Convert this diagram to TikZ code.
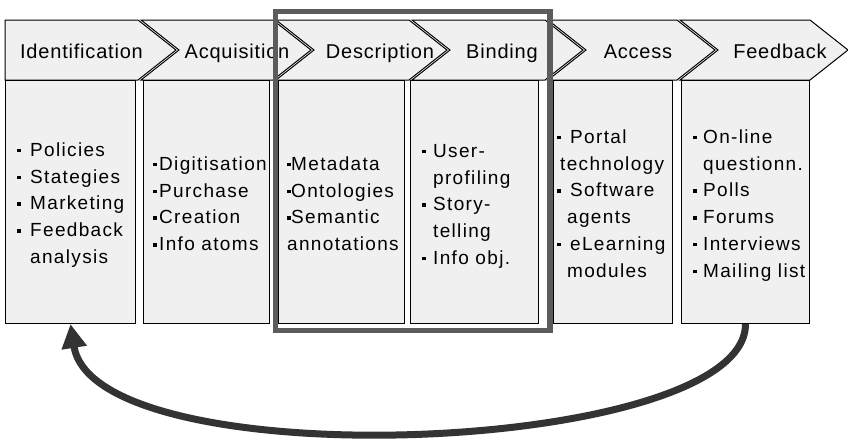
\documentclass[tikz,border=0pt]{standalone}
\usepackage{fontspec}
\setmainfont{Liberation Sans}
\newfontfamily\headfont[LetterSpace=4]{Liberation Sans}
\newfontfamily\bodyfont[LetterSpace=7]{Liberation Sans}
\usetikzlibrary{arrows.meta}
\definecolor{panel}{HTML}{F0F0F0}
\definecolor{framegray}{HTML}{5C5C5C}
\definecolor{loopgray}{HTML}{333333}
% small square bullet followed by a gap of the given width
\newcommand\sqbullet{\rule[4pt]{3.5pt}{3.5pt}}
\newcommand\itm[1]{\makebox[#1][l]{\sqbullet}}
\newcommand\cnt[1]{\hspace*{#1}}
\newcommand\firstline{\rule{0pt}{14pt}}
\begin{document}
\begin{tikzpicture}[x=1pt,y=-1pt,
  chev/.style={draw=black, fill=panel, line width=1pt, line join=miter},
  panelbox/.style={draw=black, fill=panel, line width=1pt, anchor=north west,
    inner sep=0pt, minimum height=243pt},
  head/.style={font=\headfont\fontsize{20}{24}\selectfont, anchor=base, inner sep=0pt},
  items/.style={font=\bodyfont\fontsize{19}{26.8}\selectfont, align=left,
    anchor=north west, inner sep=0pt},
  loopback/.style={draw=loopgray, line width=7pt,
    -{Triangle[length=24pt,width=24pt]}}]
\useasboundingbox (0,0) rectangle (848,440);

% process chevrons
\draw[chev] (5,20) -- (138,20) -- (176,50) -- (138,80) -- (5,80) -- cycle;
\draw[chev] (141,20) -- (273,20) -- (311,50) -- (273,80) -- (141,80) -- (179,50) -- cycle;
\draw[chev] (276,20) -- (409,20) -- (447,50) -- (409,80) -- (276,80) -- (314,50) -- cycle;
\draw[chev] (412,20) -- (545,20) -- (583,50) -- (545,80) -- (412,80) -- (450,50) -- cycle;
\draw[chev] (548,20) -- (677,20) -- (715,50) -- (677,80) -- (548,80) -- (586,50) -- cycle;
\draw[chev] (680,20) -- (810,20) -- (848,50) -- (810,80) -- (680,80) -- (718,50) -- cycle;

\node[head] (h1) at (81.5,58) {Identification};
\node[head] (h2) at (237,58) {Acquisition};
\node[head] (h3) at (380,58) {Description};
\node[head] (h4) at (502,58) {Binding};
\node[head] (h5) at (638,58) {Access};
\node[head] (h6) at (780,58) {Feedback};

% activity panels
\node[panelbox, minimum width=130pt] (b1) at (5,80) {};
\node[panelbox, minimum width=126pt] (b2) at (143,80) {};
\node[panelbox, minimum width=126pt] (b3) at (278,80) {};
\node[panelbox, minimum width=128pt] (b4) at (410,80) {};
\node[panelbox, minimum width=119pt] (b5) at (553,80) {};
\node[panelbox, minimum width=128pt] (b6) at (681,80) {};

\node[items] (t1) at (17,142) {\firstline\itm{13pt}Policies\\\itm{13pt}Stategies\\\itm{13pt}Marketing\\\itm{13pt}Feedback\\\cnt{13pt}analysis};
\node[items] (t2) at (153,156) {\firstline\itm{6pt}Digitisation\\\itm{6pt}Purchase\\\itm{6pt}Creation\\\itm{6pt}Info atoms};
\node[items] (t3) at (287,156) {\firstline\itm{4pt}Metadata\\\itm{4pt}Ontologies\\\itm{4pt}Semantic\\annotations};
\node[items] (t4) at (422,143) {\firstline\itm{11pt}User-\\\cnt{11pt}profiling\\\itm{11pt}Story-\\\cnt{11pt}telling\\\itm{11pt}Info obj.};
\node[items] (t5) at (557,129) {\firstline\itm{13pt}Portal\\\cnt{3pt}technology\\\itm{13pt}Software\\\cnt{10pt}agents\\\itm{13pt}eLearning\\\cnt{10pt}modules};
\begin{scope}
  \clip (681.5,80.5) rectangle (808.5,322.5);
  \node[items] (t6) at (693,129) {\firstline\itm{10pt}On-line\\\cnt{10pt}questionn.\\\itm{10pt}Polls\\\itm{10pt}Forums\\\itm{10pt}Interviews\\\itm{10pt}Mailing list};
\end{scope}

% highlight around description and binding
\draw[draw=framegray, line width=5.5pt] (275.5,11.5) rectangle (550,330.5);

% feedback loop back to identification
\draw[loopback] (b6.south) .. controls (746,455) and (95,480) .. (b1.south);
\end{tikzpicture}
\end{document}
